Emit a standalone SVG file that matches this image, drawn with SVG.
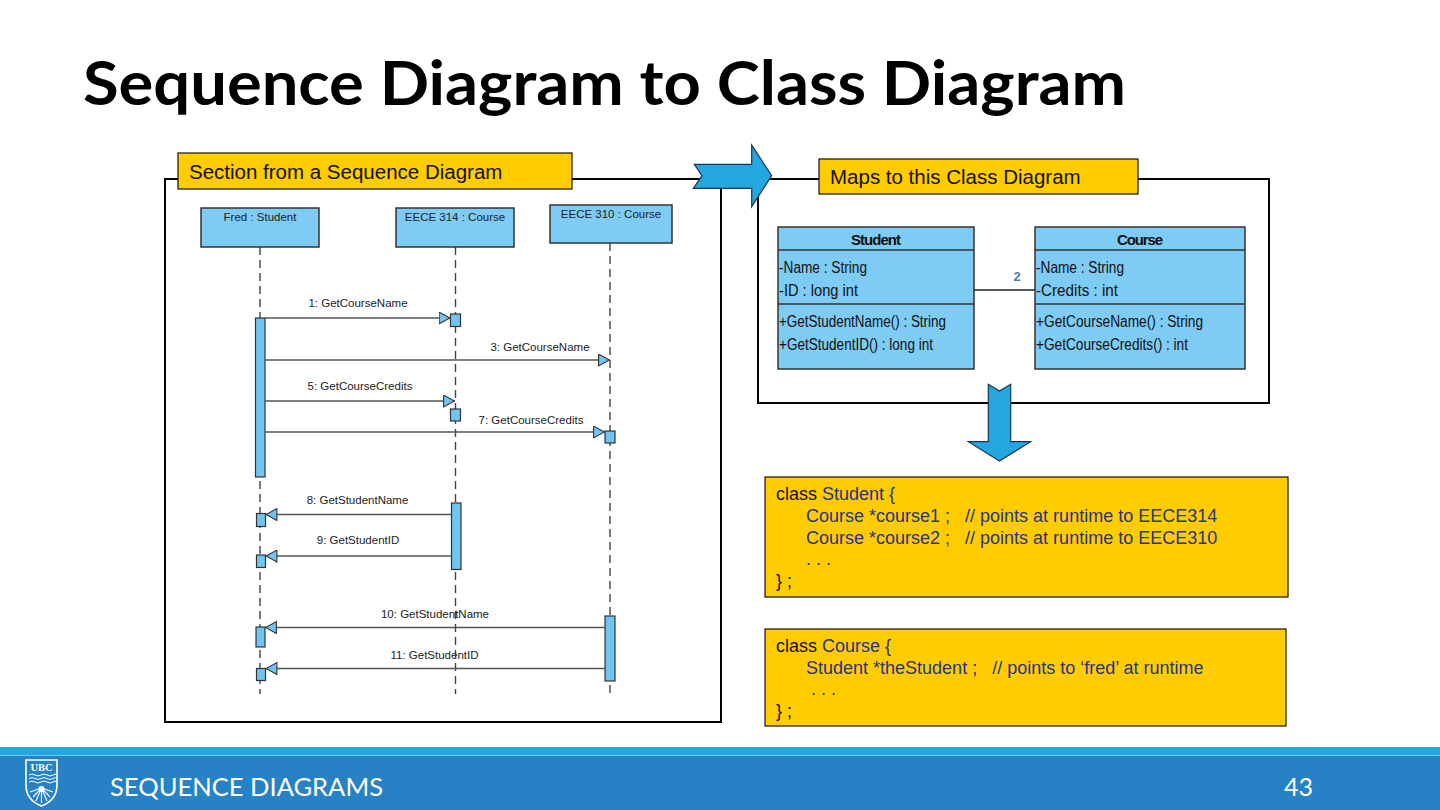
<svg xmlns="http://www.w3.org/2000/svg" width="1440" height="810" viewBox="0 0 1440 810">
<defs>
<style>
.title{font-family:Lato,"Liberation Sans",sans-serif;font-weight:700;font-size:61px;fill:#000}
.lbl{font-family:"Liberation Sans",Arial,sans-serif;font-size:20.5px;fill:#111}
.seq{font-family:"Liberation Sans",Arial,sans-serif;font-size:11.5px;fill:#222;text-anchor:middle}
.box{fill:#7ecbf4;stroke:#333;stroke-width:1.5}
.act{fill:#6fc4f0;stroke:#333;stroke-width:1.2}
.life{stroke:#444;stroke-width:1.4;stroke-dasharray:8 5;fill:none}
.msg{stroke:#555;stroke-width:1.3;fill:none}
.cd{font-family:"Liberation Sans",Arial,sans-serif;font-size:16px;fill:#111}
.cdh{font-family:"Liberation Sans",Arial,sans-serif;font-size:15px;font-weight:700;fill:#111;text-anchor:middle}
.code{font-family:"Liberation Sans",Arial,sans-serif;font-size:18px;fill:#27348b;white-space:pre}
.k{fill:#111}
.ybox{fill:#ffcc00;stroke:#111;stroke-width:1.2}
.frame{fill:none;stroke:#000;stroke-width:2}
.bigarrow{fill:#22a7e0;stroke:#1b3550;stroke-width:1.2}
.foot{font-family:Lato,"Liberation Sans",sans-serif;font-size:25px;fill:#fff}
</style>
<marker id="ah" viewBox="0 0 12 13" refX="12" refY="6.5" markerWidth="12" markerHeight="13" markerUnits="userSpaceOnUse" orient="auto">
<path d="M0.6,0.6 L11.4,6.5 L0.6,12.4 Z" fill="#6fc4f0" stroke="#333" stroke-width="1.1"/>
</marker>
</defs>
<rect width="1440" height="810" fill="#fff"/>

<text class="title" x="83" y="105" textLength="1043" lengthAdjust="spacingAndGlyphs">Sequence Diagram to Class Diagram</text>

<!-- Sequence diagram frame -->
<g id="seq-frame">
<rect class="frame" x="165" y="179" width="556" height="543"/>
<rect class="ybox" x="178" y="153" width="394" height="36"/>
<text class="lbl" x="189" y="179">Section from a Sequence Diagram</text>
</g>

<!-- Class diagram frame -->
<g id="class-frame">
<rect class="frame" x="758" y="179" width="511" height="224"/>
<rect class="ybox" x="819" y="159" width="319" height="35"/>
<text class="lbl" x="830" y="183.5">Maps to this Class Diagram</text>
</g>

<!-- Lifelines -->
<g id="lifelines">
<line class="life" x1="260" y1="247" x2="260" y2="694"/>
<line class="life" x1="455.5" y1="247" x2="455.5" y2="694"/>
<line class="life" x1="610" y1="243" x2="610" y2="694"/>
</g>

<g id="fred">
<rect class="box" x="201" y="208" width="118" height="39"/>
<text class="seq" x="260" y="221">Fred : Student</text>
</g>
<g id="eece314">
<rect class="box" x="396" y="208" width="118" height="39"/>
<text class="seq" x="455" y="221">EECE 314 : Course</text>
</g>
<g id="eece310">
<rect class="box" x="550" y="205" width="122" height="38"/>
<text class="seq" x="611" y="218">EECE 310 : Course</text>
</g>

<g id="activations">
<rect class="act" x="255.5" y="318" width="9.5" height="159"/>
<rect class="act" x="450.5" y="314" width="10" height="12.5"/>
<rect class="act" x="450.5" y="409" width="10" height="12"/>
<rect class="act" x="605" y="431" width="10" height="12"/>
<rect class="act" x="451.5" y="503" width="9.5" height="66.5"/>
<rect class="act" x="256.5" y="513.5" width="9" height="13"/>
<rect class="act" x="256.5" y="555" width="9" height="12.5"/>
<rect class="act" x="605" y="616" width="10" height="65"/>
<rect class="act" x="256" y="627" width="9" height="20"/>
<rect class="act" x="256.5" y="668.5" width="9" height="12"/>
</g>

<g id="connectors">
<line class="msg" x1="265" y1="318" x2="450.5" y2="318" marker-end="url(#ah)"/>
<line class="msg" x1="265" y1="360" x2="610" y2="360" marker-end="url(#ah)"/>
<line class="msg" x1="265" y1="401" x2="455" y2="401" marker-end="url(#ah)"/>
<line class="msg" x1="265" y1="432" x2="605" y2="432" marker-end="url(#ah)"/>
<line class="msg" x1="451.5" y1="514.5" x2="265.5" y2="514.5" marker-end="url(#ah)"/>
<line class="msg" x1="451.5" y1="556" x2="265.5" y2="556" marker-end="url(#ah)"/>
<line class="msg" x1="605" y1="627.5" x2="265" y2="627.5" marker-end="url(#ah)"/>
<line class="msg" x1="605" y1="668.5" x2="265.5" y2="668.5" marker-end="url(#ah)"/>
<line x1="974" y1="290" x2="1035" y2="290" stroke="#222" stroke-width="1.5"/>
<text x="1017" y="281" font-family="Liberation Sans, Arial, sans-serif" font-size="13" font-weight="700" fill="#4a7db4" text-anchor="middle">2</text>
</g>

<g id="msg-labels">
<text class="seq" x="358" y="307">1: GetCourseName</text>
<text class="seq" x="540" y="351">3: GetCourseName</text>
<text class="seq" x="360" y="390">5: GetCourseCredits</text>
<text class="seq" x="531" y="423.5">7: GetCourseCredits</text>
<text class="seq" x="357.5" y="503.5">8: GetStudentName</text>
<text class="seq" x="358" y="544">9: GetStudentID</text>
<text class="seq" x="435" y="618">10: GetStudentName</text>
<text class="seq" x="434.5" y="659">11: GetStudentID</text>
</g>

<!-- Class diagram -->
<g id="student-class">
<rect class="box" x="778" y="227" width="196" height="142"/>
<line x1="778" y1="250" x2="974" y2="250" stroke="#333" stroke-width="1.5"/>
<line x1="778" y1="304" x2="974" y2="304" stroke="#333" stroke-width="1.5"/>
<text class="cdh" x="876" y="245" textLength="50">Student</text>
<text class="cd" x="779" y="273" textLength="88" lengthAdjust="spacingAndGlyphs">-Name : String</text>
<text class="cd" x="779" y="296" textLength="79" lengthAdjust="spacingAndGlyphs">-ID : long int</text>
<text class="cd" x="779" y="327" textLength="167" lengthAdjust="spacingAndGlyphs">+GetStudentName() : String</text>
<text class="cd" x="779" y="350" textLength="154" lengthAdjust="spacingAndGlyphs">+GetStudentID() : long int</text>
</g>
<g id="course-class">
<rect class="box" x="1035" y="227" width="210" height="142"/>
<line x1="1035" y1="250" x2="1245" y2="250" stroke="#333" stroke-width="1.5"/>
<line x1="1035" y1="304" x2="1245" y2="304" stroke="#333" stroke-width="1.5"/>
<text class="cdh" x="1140" y="245" textLength="46">Course</text>
<text class="cd" x="1036" y="273" textLength="88" lengthAdjust="spacingAndGlyphs">-Name : String</text>
<text class="cd" x="1036" y="296" textLength="82" lengthAdjust="spacingAndGlyphs">-Credits : int</text>
<text class="cd" x="1036" y="327" textLength="167" lengthAdjust="spacingAndGlyphs">+GetCourseName() : String</text>
<text class="cd" x="1036" y="350" textLength="152" lengthAdjust="spacingAndGlyphs">+GetCourseCredits() : int</text>
</g>

<!-- Big arrows -->
<g id="arrow-right">
<path class="bigarrow" d="M694.3,164.3 L751.7,164.3 L751.7,145 L771.7,175.7 L751.7,206.7 L751.7,188.3 L693.3,188.3 L702,175.7 Z"/>
</g>
<g id="arrow-down">
<path class="bigarrow" d="M988.3,384.3 L999.5,391 L1010.7,384.3 L1010.7,441.7 L1030.7,441.7 L999.5,461 L968.3,441.7 L988.3,441.7 Z"/>
</g>

<!-- Code boxes -->
<g id="code-student">
<rect class="ybox" x="765" y="477" width="523" height="120"/>
<text class="code" x="776" y="500"><tspan class="k">class </tspan>Student {</text>
<text class="code" x="806" y="522">Course *course1 ;   // points at runtime to EECE314</text>
<text class="code" x="806" y="544">Course *course2 ;   // points at runtime to EECE310</text>
<text class="code" x="806" y="565">. . .</text>
<text class="code k" x="776" y="587">} ;</text>
</g>
<g id="code-course">
<rect class="ybox" x="765" y="629" width="521" height="97"/>
<text class="code" x="776" y="652"><tspan class="k">class </tspan>Course {</text>
<text class="code" x="806" y="674">Student *theStudent ;   // points to ‘fred’ at runtime</text>
<text class="code" x="811" y="695">. . .</text>
<text class="code k" x="776" y="717">} ;</text>
</g>

<!-- Footer -->
<g id="footer">
<rect x="0" y="747" width="1440" height="8" fill="#1fa8e1"/>
<rect x="0" y="755" width="1440" height="55" fill="#2782c5"/>
<line x1="0" y1="755.5" x2="1440" y2="755.5" stroke="#6cc8f0" stroke-width="1"/>
<g id="ubc-logo">
<path d="M26,760 H57 V785 Q57,800 41.5,806 Q26,800 26,785 Z" fill="none" stroke="#fff" stroke-width="1.6"/>
<text x="41.5" y="771" font-family="Liberation Serif, serif" font-size="10.5" font-weight="700" fill="#fff" text-anchor="middle">UBC</text>
<path d="M29,775 q3,-2 6,0 t6,0 t6,0 t6,0 t3,0 M29,778.5 q3,-2 6,0 t6,0 t6,0 t6,0 t3,0 M29,782 q3,-2 6,0 t6,0 t6,0 t6,0 t3,0" fill="none" stroke="#fff" stroke-width="1"/>
<path d="M33,797 L41.5,788 L50,797 M36,801 L41.5,788 L47,801 M41.5,803 L41.5,788 M30,792 L41.5,788 L53,792" fill="none" stroke="#fff" stroke-width="1.1"/>
<circle cx="41.5" cy="789" r="3" fill="#fff"/>
</g>
<text class="foot" x="110" y="796" textLength="273" lengthAdjust="spacingAndGlyphs">SEQUENCE DIAGRAMS</text>
<text class="foot" x="1284" y="796">43</text>
</g>
</svg>
